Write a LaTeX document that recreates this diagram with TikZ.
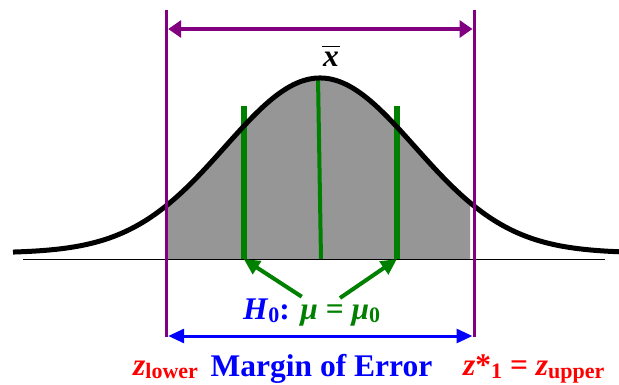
\documentclass[tikz,border=0pt]{standalone}
\usepackage{fontspec}
\setmainfont{Liberation Serif}
\usetikzlibrary{arrows.meta}
\definecolor{pur}{RGB}{128,0,128}
\definecolor{grn}{RGB}{0,128,0}
\definecolor{areagray}{RGB}{150,150,150}
\tikzset{
  purpleline/.style={draw=pur, line width=3pt},
  purplearrow/.style={draw=pur, line width=4pt, {Triangle[length=13pt,width=17pt]}-{Triangle[length=13pt,width=17pt]}},
  bluearrow/.style={draw=blue, line width=3pt, {Triangle[length=16pt,width=14pt]}-{Triangle[length=16pt,width=14pt]}},
  greenbar/.style={draw=grn, line width=6pt},
  greenmid/.style={draw=grn, line width=4pt},
  greenarrow/.style={draw=grn, line width=4pt, -{Triangle[length=16pt,width=15pt]}},
  bellcurve/.style={draw=black, line width=5pt},
  axisline/.style={draw=black, line width=1pt},
  lbl/.style={font=\fontsize{31.5}{36}\selectfont\bfseries, inner sep=0pt},
}
\newcommand{\bell}[1]{253-175*exp(-0.5*((#1-320)/95)*((#1-320)/95))}
\newcommand{\lowsub}[1]{\raisebox{-3.5pt}{\fontsize{22}{24}\selectfont\upshape #1}}
\begin{document}
\begin{tikzpicture}[x=1pt,y=-1pt]
\useasboundingbox (0,0) rectangle (619,385);
% shaded area
\fill[areagray] (168,259) -- plot[domain=168:470, samples=120] (\x, {\bell{\x}}) -- (470,259) -- cycle;
% baseline
\coordinate (axL) at (23,259);
\coordinate (axR) at (605,259);
\draw[axisline] (axL) -- (axR);
% green lines
\coordinate (gLt) at (243.7,106);
\coordinate (gLb) at (243.7,259);
\coordinate (gRt) at (397,106);
\coordinate (gRb) at (397,259);
\coordinate (gMt) at (318,77);
\coordinate (gMb) at (321,259);
\draw[greenbar] (gLt) -- (gLb);
\draw[greenbar] (gRt) -- (gRb);
\draw[greenmid] (gMt) -- (gMb);
% bell curve
\draw[bellcurve] plot[domain=13:619, samples=200, smooth] (\x, {\bell{\x}});
% purple verticals
\coordinate (pLt) at (166.7,10);
\coordinate (pLb) at (166.7,337);
\coordinate (pRt) at (474,10);
\coordinate (pRb) at (474,337);
\draw[purpleline] (pLt) -- (pLb);
\draw[purpleline] (pRt) -- (pRb);
% purple arrow
\coordinate (paL) at (168.2,29);
\coordinate (paR) at (472.5,29);
\draw[purplearrow] (paL) -- (paR);
% blue arrow
\coordinate (baL) at (168.2,336);
\coordinate (baR) at (472.5,336);
\draw[bluearrow] (baL) -- (baR);
% x-bar label
\node[lbl, anchor=base] (xb) at (331,67) {\itshape x};
\coordinate (barL) at (322,46.5);
\coordinate (barR) at (340,46.5);
\draw[line width=1.5pt] (barL) -- (barR);
% H0 label and arrows
\node[lbl, anchor=base] (h0) at (311.7,319) {\textcolor{blue}{\textit{H}\lowsub{0}:} \textcolor{grn}{\textit{μ} = \textit{μ}\lowsub{0}}};
\coordinate (h0L) at (301.7,296.7);
\coordinate (h0R) at (340,298);
\draw[greenarrow] (h0L) -- (gLb);
\draw[greenarrow] (h0R) -- (gRb);
% bottom labels
\node[lbl, red, anchor=base west] (zl) at (133,375) {\textit{z}\lowsub{lower}};
\node[lbl, blue, anchor=base] (moe) at (321.5,376.7) {Margin of Error};
\node[lbl, red, anchor=base west] (zu) at (463,375) {\textit{z}*\lowsub{1} = \textit{z}\lowsub{upper}};
\end{tikzpicture}
\end{document}
